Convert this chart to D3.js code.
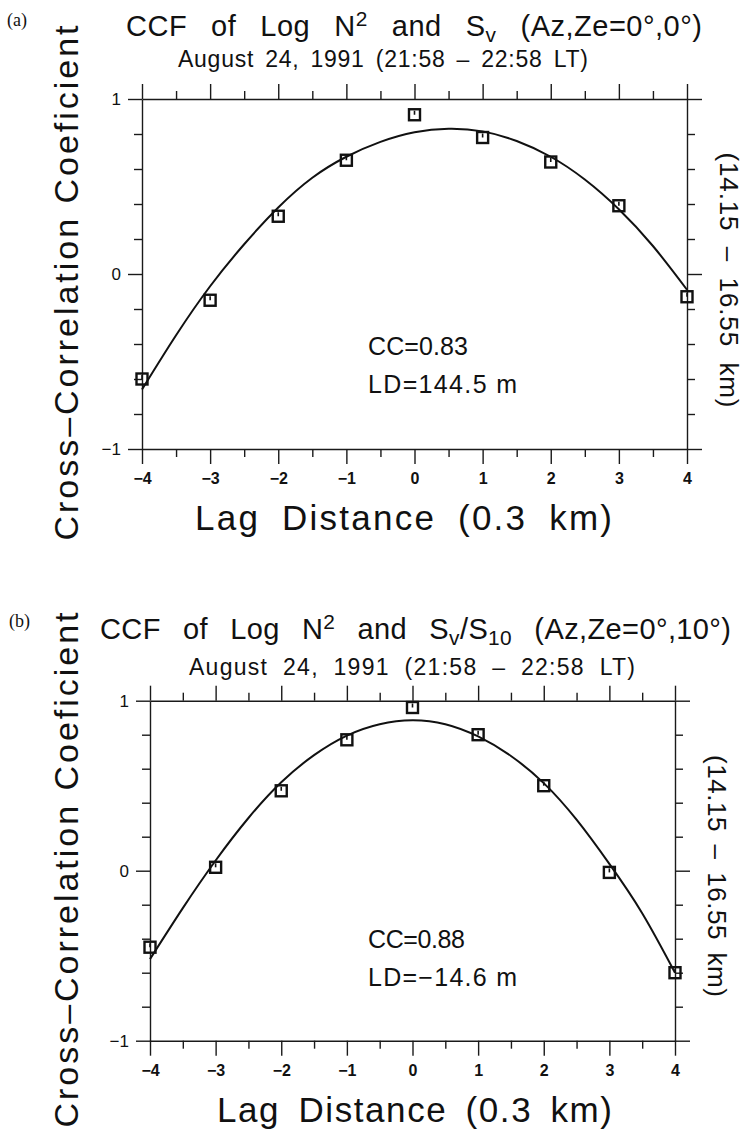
<!DOCTYPE html>
<html>
<head>
<meta charset="utf-8">
<script src="https://cdn.jsdelivr.net/npm/d3@7"></script>
<style>
body { margin: 0; background: #fff; }
svg { display: block; }
text { font-family: "Liberation Sans", Arial, sans-serif; fill: #111; }
</style>
</head>
<body>
<svg id="fig" width="747" height="1131"></svg>
<script>
// lag distance, in steps of 0.3 km
var lags = [-4, -3, -2, -1, 0, 1, 2, 3, 4];
// measured cross-correlation (squares)
var ccfA = [-0.60, -0.15, 0.33, 0.65, 0.91, 0.78, 0.64, 0.39, -0.13];
var ccfB = [-0.45, 0.02, 0.47, 0.77, 0.96, 0.80, 0.50, -0.01, -0.60];
// fitted curve, every half step
var fitLags = [-4, -3.5, -3, -2.5, -2, -1.5, -1, -0.5, 0, 0.5, 1, 1.5, 2, 2.5, 3, 3.5, 4];
var fitA = [-0.66, -0.35, -0.07, 0.17, 0.38, 0.55, 0.67, 0.755, 0.81, 0.83, 0.815, 0.76, 0.67, 0.54, 0.37, 0.16, -0.09];
var fitB = [-0.52, -0.22, 0.06, 0.31, 0.52, 0.68, 0.795, 0.862, 0.885, 0.862, 0.79, 0.675, 0.515, 0.30, 0.04, -0.25, -0.60];
// ticks
var xMajor = [-4, -3, -2, -1, 0, 1, 2, 3, 4];
var xMinor = [-3.5, -2.5, -1.5, -0.5, 0.5, 1.5, 2.5, 3.5];
var yMajor = [-1, 0, 1];
var yMinor = [-0.8, -0.6, -0.4, -0.2, 0.2, 0.4, 0.6, 0.8];

var svg = d3.select("#fig");

// stretch the spacing of a text so that it covers len pixels
// frac = share of the extra room given to letters, the rest goes to the spaces
function fit(t, len, frac) {
	var w = t.node().getComputedTextLength();
	var s = t.text();
	var n = s.split(" ").length - 1;
	var ls = frac * (len - w) / (s.length - 1);
	t.style("letter-spacing", ls + "px");
	if (n > 0 && frac < 1) t.style("word-spacing", ((len - w - ls * (s.length - 1)) / n) + "px");
}

// parts: [text, shift] with shift -1 = superscript, 1 = subscript
function richText(g, parts, x0, y, fs) {
	var t = g.append("text").attr("x", x0).attr("y", y).style("font-size", fs + "px");
	var cur = 0;
	parts.forEach(function (p) {
		var off = p[1] == -1 ? -fs * 0.36 : (p[1] == 1 ? fs * 0.22 : 0);
		var ts = t.append("tspan").attr("dy", off - cur).text(p[0]);
		if (p[1] != 0) ts.style("font-size", (fs * 0.72) + "px");
		cur = off;
	});
	return t;
}

function panel(p) {
	var x = d3.scaleLinear().domain([-4, 4]).range([p.left, p.right]);
	var y = d3.scaleLinear().domain([-1, 1]).range([p.bottom, p.top]);
	var g = svg.append("g").style("color", "#1a1a1a");

	function axis(gen, tr, vals, size, fmt, pad, keepDomain) {
		var a = g.append("g").attr("transform", tr)
			.call(gen.tickValues(vals).tickSize(size).tickSizeOuter(0).tickPadding(pad).tickFormat(fmt));
		a.selectAll("line,path").attr("stroke-width", 1.4);
		if (!keepDomain) a.select(".domain").remove();
		return a;
	}
	var none = function () { return ""; };
	var bx = axis(d3.axisBottom(x), "translate(0," + p.bottom + ")", xMajor, 15, d3.format("d"), 9, true);
	bx.selectAll("text").style("font-size", "16px").style("font-weight", "bold");
	axis(d3.axisBottom(x), "translate(0," + p.bottom + ")", xMinor, 8, none, 0, false);
	axis(d3.axisTop(x), "translate(0," + p.top + ")", xMajor, 15, none, 0, true);
	axis(d3.axisTop(x), "translate(0," + p.top + ")", xMinor, 8, none, 0, false);
	var ly = axis(d3.axisLeft(y), "translate(" + p.left + ",0)", yMajor, 14, d3.format("d"), 7, true);
	ly.selectAll("text").style("font-size", "17px");
	axis(d3.axisLeft(y), "translate(" + p.left + ",0)", yMinor, 8, none, 0, false);
	axis(d3.axisRight(y), "translate(" + p.right + ",0)", yMajor, 15, none, 0, true);
	axis(d3.axisRight(y), "translate(" + p.right + ",0)", yMinor, 8, none, 0, false);

	var line = d3.line().x(function (d) { return x(d[0]); }).y(function (d) { return y(d[1]); }).curve(d3.curveNatural);
	g.append("path").datum(d3.zip(fitLags, p.fit)).attr("d", line)
		.attr("fill", "none").attr("stroke", "#111").attr("stroke-width", 2);

	var pts = g.selectAll(".pt").data(d3.zip(lags, p.ccf)).enter().append("g").attr("class", "pt")
		.attr("transform", function (d) { return "translate(" + x(d[0]) + "," + y(d[1]) + ")"; });
	pts.append("rect").attr("x", -5.5).attr("y", -5.5).attr("width", 11).attr("height", 11)
		.attr("fill", "none").attr("stroke", "#111").attr("stroke-width", 2.4);
	pts.append("line").attr("x1", 0).attr("x2", 0).attr("y1", -4).attr("y2", 0)
		.attr("stroke", "#111").attr("stroke-width", 1.6);

	// texts
	g.append("text").attr("x", p.tag[1]).attr("y", p.tag[2]).text(p.tag[0])
		.style("font-family", "'Liberation Serif', 'Times New Roman', serif").style("font-size", "18px");
	fit(richText(g, p.title, p.titleX, p.titleY, 29), p.titleLen, 0.15);
	fit(richText(g, [[p.sub, 0]], p.subX, p.subY, 23), p.subLen, 0.5);

	var yl = g.append("text").attr("transform", "translate(" + p.ylabX + "," + (p.ylabC + p.ylabLen / 2) + ") rotate(-90)")
		.style("font-size", "34px").text("Cross\u2013Correlation Coeficient");
	fit(yl, p.ylabLen, 1);

	var rl = g.append("text").attr("transform", "translate(" + p.rlabX + "," + (p.rlabC - p.rlabLen / 2) + ") rotate(90)")
		.style("font-size", "26px").text("(14.15 \u2013 16.55 km)");
	fit(rl, p.rlabLen, 0.4);

	var xl = g.append("text").attr("x", p.xlabX).attr("y", p.xlabY).style("font-size", "35px").text("Lag Distance (0.3 km)");
	fit(xl, p.xlabLen, 0.6);

	var cc = g.append("text").attr("x", 368).attr("y", p.ccY).style("font-size", "25px").text(p.cc);
	fit(cc, p.ccLen, 1);
	var ld = g.append("text").attr("x", 368).attr("y", p.ccY + 38).style("font-size", "25px").text(p.ld);
	fit(ld, 149, 1);
}

panel({
	left: 142, right: 687, top: 99, bottom: 449,
	ccf: ccfA, fit: fitA,
	tag: ["(a)", 7, 26],
	title: [["CCF of Log N", 0], ["2", -1], [" and S", 0], ["v", 1], [" (Az,Ze=0\u00b0,0\u00b0)", 0]],
	titleX: 126, titleY: 36, titleLen: 576,
	sub: "August 24, 1991 (21:58 \u2013 22:58 LT)", subX: 178, subY: 67, subLen: 410,
	ylabX: 78, ylabC: 283, ylabLen: 515,
	rlabX: 720, rlabC: 280, rlabLen: 255,
	xlabX: 195, xlabY: 530, xlabLen: 417,
	cc: "CC=0.83", ccLen: 100, ccY: 355, ld: "LD=144.5 m"
});

panel({
	left: 150, right: 675, top: 700.7, bottom: 1040.7,
	ccf: ccfB, fit: fitB,
	tag: ["(b)", 9, 627],
	title: [["CCF of Log N", 0], ["2", -1], [" and S", 0], ["v", 1], ["/S", 0], ["10", 1], [" (Az,Ze=0\u00b0,10\u00b0)", 0]],
	titleX: 100, titleY: 639, titleLen: 631,
	sub: "August 24, 1991 (21:58 \u2013 22:58 LT)", subX: 189, subY: 675, subLen: 446,
	ylabX: 78, ylabC: 870, ylabLen: 515,
	rlabX: 708, rlabC: 876, rlabLen: 242,
	xlabX: 217, xlabY: 1122, xlabLen: 395,
	cc: "CC=0.88", ccLen: 97, ccY: 948, ld: "LD=\u221214.6 m"
});
</script>
</body>
</html>
